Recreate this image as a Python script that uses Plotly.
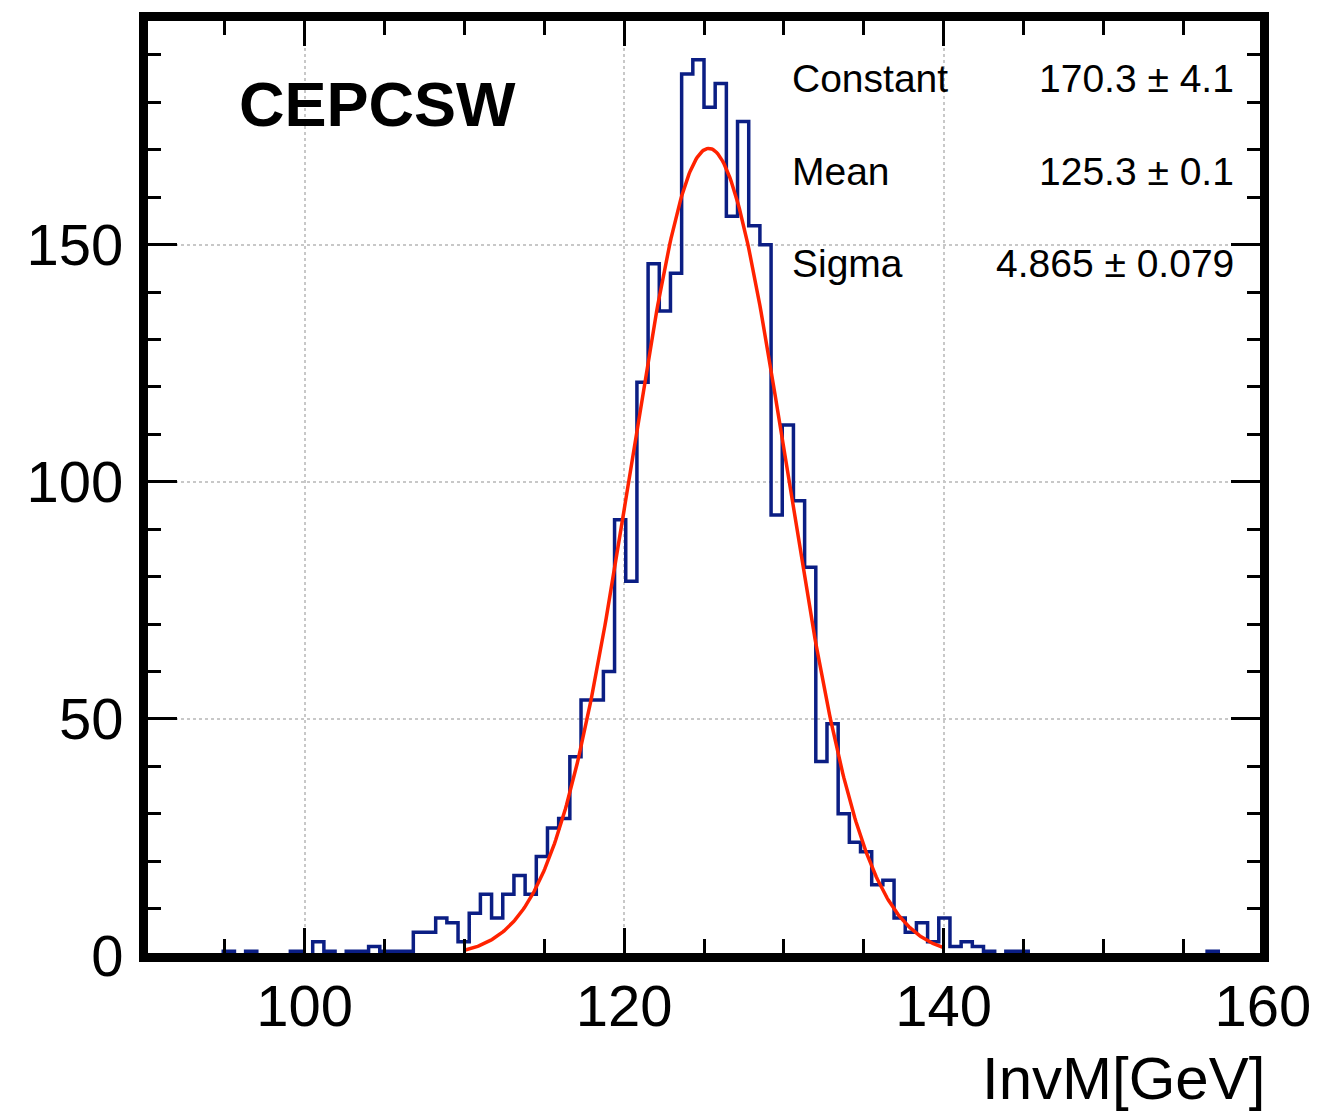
import numpy as np
import plotly.graph_objects as go

# ---- data ----
bin_lo = 90.0
bin_width = 0.7
counts = [
    0, 0, 0, 0, 0, 0, 0, 1, 0, 1,        # 90.0 - 97.0
    0, 0, 0, 1, 0, 3, 1, 0, 1, 1,        # 97.0 - 104.0
    2, 1, 1, 1, 5, 5, 8, 7, 3, 9,        # 104.0 - 111.0
    13, 8, 13, 17, 13, 21, 27, 29, 42, 54,   # 111.0 - 118.0
    54, 60, 92, 79, 121, 146, 136, 144, 186, 189,  # 118.0 - 125.0
    179, 184, 156, 176, 154, 150, 93, 112, 96, 82,  # 125.0 - 132.0
    41, 49, 30, 24, 22, 15, 16, 8, 5, 7,   # 132.0 - 139.0
    3, 8, 2, 3, 2, 1, 0, 1, 1, 0,         # 139.0 - 146.0
    0, 0, 0, 0, 0, 0, 0, 0, 0, 0,         # 146.0 - 153.0
    0, 0, 0, 0, 0, 1, 0, 0, 0, 0,         # 153.0 - 160.0
]
fit_constant = 170.3
fit_mean = 125.3
fit_sigma = 4.865
fit_range = (110.0, 140.0)
stats_labels = ["Constant", "Mean", "Sigma"]
stats_values = ["170.3 \u00b1 4.1", "125.3 \u00b1 0.1", "4.865 \u00b1 0.079"]

# ---- build step outline ----
edges = [bin_lo + bin_width * i for i in range(len(counts) + 1)]
step_x = edges
step_y = counts + [counts[-1]]

fx = np.linspace(fit_range[0], fit_range[1], 400)
fy = fit_constant * np.exp(-0.5 * ((fx - fit_mean) / fit_sigma) ** 2)

FONT = "Liberation Sans, Arial, Helvetica, sans-serif"

fig = go.Figure()
fig.add_trace(go.Scatter(x=step_x, y=step_y, mode="lines",
                         line=dict(color="#0b1e84", width=3.5, shape="hv"),
                         hoverinfo="skip", showlegend=False))
fig.add_trace(go.Scatter(x=fx, y=fy, mode="lines",
                         line=dict(color="#ff2200", width=3.5),
                         hoverinfo="skip", showlegend=False))

fig.update_layout(
    width=1323, height=1113,
    margin=dict(l=145, r=56, t=14, b=157),
    paper_bgcolor="white", plot_bgcolor="white",
    font=dict(family=FONT, color="black"),
)
fig.update_xaxes(
    range=[90, 160], tickmode="linear", tick0=100, dtick=20,
    ticks="inside", ticklen=28, tickwidth=3, tickcolor="black",
    showline=True, linewidth=6, linecolor="black", mirror="allticks",
    showgrid=True, gridcolor="#c8c8c8", gridwidth=1.5, griddash="dot",
    zeroline=False, ticklabelstandoff=-6,
    tickfont=dict(size=58, family=FONT, color="black"),
    minor=dict(tickmode="linear", tick0=95, dtick=5, ticks="inside", ticklen=17, tickwidth=3,
               tickcolor="black", showgrid=False),
)
fig.update_yaxes(
    range=[0, 197.8], tickmode="linear", tick0=0, dtick=50,
    ticks="inside", ticklen=32, tickwidth=3, tickcolor="black",
    showline=True, linewidth=6, linecolor="black", mirror="allticks",
    showgrid=True, gridcolor="#c8c8c8", gridwidth=1.5, griddash="dot",
    zeroline=False, ticklabelstandoff=4,
    tickfont=dict(size=58, family=FONT, color="black"),
    minor=dict(tickmode="linear", dtick=10, ticks="inside", ticklen=16, tickwidth=3,
               tickcolor="black", showgrid=False),
)

# frame on top to hide zero-level line
fig.add_shape(type="rect", xref="paper", yref="paper", x0=0, x1=1, y0=0, y1=1,
              line=dict(color="black", width=6), layer="above")

fig.add_annotation(text="<b>CEPCSW</b>", xref="paper", yref="paper",
                   x=0.082, y=0.9086, xanchor="left", yanchor="middle",
                   showarrow=False, font=dict(size=63, family=FONT, color="black"))

ys = [0.935, 0.836, 0.7386]
for lab, val, yy in zip(stats_labels, stats_values, ys):
    fig.add_annotation(text=lab, xref="paper", yref="paper", x=0.5766, y=yy,
                       xanchor="left", yanchor="middle", showarrow=False,
                       font=dict(size=39, family=FONT, color="black"))
    fig.add_annotation(text=val, xref="paper", yref="paper", x=0.976, y=yy,
                       xanchor="right", yanchor="middle", showarrow=False,
                       font=dict(size=39, family=FONT, color="black"))

fig.add_annotation(text="InvM[GeV]", xref="paper", yref="paper", x=1.004, y=-0.1307,
                   xanchor="right", yanchor="middle", showarrow=False,
                   font=dict(size=60, family=FONT, color="black"))

fig.write_html("out.html")
